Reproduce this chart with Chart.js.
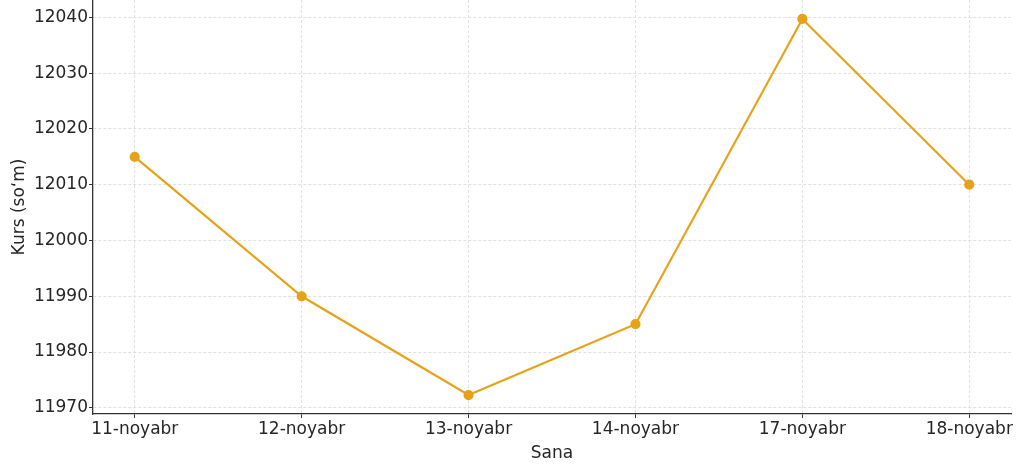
<!DOCTYPE html>
<html>
<head>
<meta charset="utf-8">
<script src="https://cdn.jsdelivr.net/npm/chart.js@4.4.1/dist/chart.umd.min.js"></script>
<style>
  html, body { margin: 0; padding: 0; background: #fff; }
  #wrap { width: 1024px; height: 471px; position: relative; }
</style>
</head>
<body>
<div id="wrap"><canvas id="lineChart"></canvas></div>
<script>
var dates = ["11-noyabr", "12-noyabr", "13-noyabr", "14-noyabr", "17-noyabr", "18-noyabr"];
var rates = [12015, 11990, 11972.3, 11985, 12039.7, 12010];
var yTicks = [11970, 11980, 11990, 12000, 12010, 12020, 12030, 12040];

var lineColor = "#e8a21a";
var textColor = "#262626";
var gridColor = "#e0e0e0";
var fontFamily = "'DejaVu Sans', sans-serif";

function drawChart() {
  var points = [];
  for (var i = 0; i < rates.length; i++) {
    points.push({ x: i, y: rates[i] });
  }
  var ctx = document.getElementById("lineChart");
  var newChart = new Chart(ctx, {
    type: "line",
    data: {
      datasets: [{
        label: "Kurs",
        data: points,
        borderColor: lineColor,
        backgroundColor: lineColor,
        borderWidth: 2.2,
        pointRadius: 4,
        pointHoverRadius: 4,
        tension: 0,
        fill: false
      }]
    },
    options: {
      responsive: true,
      maintainAspectRatio: false,
      animation: false,
      layout: { autoPadding: false, padding: { left: 0, right: 13, top: 0, bottom: 0 } },
      plugins: {
        legend: { display: false },
        tooltip: { enabled: false }
      },
      scales: {
        x: {
          type: "linear",
          min: -0.25,
          max: 5.25,
          afterBuildTicks: function (axis) {
            axis.ticks = dates.map(function (d, i) { return { value: i }; });
          },
          afterFit: function (axis) {
            axis.height = 57;
            axis.paddingLeft = 0;
            axis.paddingRight = 0;
          },
          ticks: {
            color: textColor,
            font: { family: fontFamily, size: 17 },
            maxRotation: 0,
            autoSkip: false,
            padding: 1,
            callback: function (v) { return dates[v]; }
          },
          grid: {
            color: gridColor,
            tickColor: "#333",
            tickLength: 4,
            lineWidth: 1
          },
          border: { display: true, color: "#333", width: 1.3, dash: [3, 2] },
          title: {
            display: true,
            text: "Sana",
            color: textColor,
            font: { family: fontFamily, size: 17 },
            padding: { top: 0, bottom: 7 }
          }
        },
        y: {
          min: 11968.9,
          max: 12043.1,
          afterBuildTicks: function (axis) {
            axis.ticks = yTicks.map(function (v) { return { value: v }; });
          },
          afterFit: function (axis) {
            axis.width = 93;
            axis.paddingTop = 0;
            axis.paddingBottom = 0;
          },
          ticks: {
            color: textColor,
            font: { family: fontFamily, size: 17 },
            padding: 1,
            callback: function (v) { return String(v); }
          },
          grid: {
            color: gridColor,
            tickColor: "#333",
            tickLength: 4,
            lineWidth: 1
          },
          border: { display: true, color: "#333", width: 1.3, dash: [3, 2] },
          title: {
            display: true,
            text: "Kurs (so‘m)",
            color: textColor,
            font: { family: fontFamily, size: 17 },
            padding: { top: 9, bottom: 0 }
          }
        }
      }
    }
  });
}

if (document.fonts && document.fonts.load) {
  document.fonts.load("17px 'DejaVu Sans'").then(drawChart, drawChart);
} else {
  drawChart();
}
</script>
</body>
</html>
